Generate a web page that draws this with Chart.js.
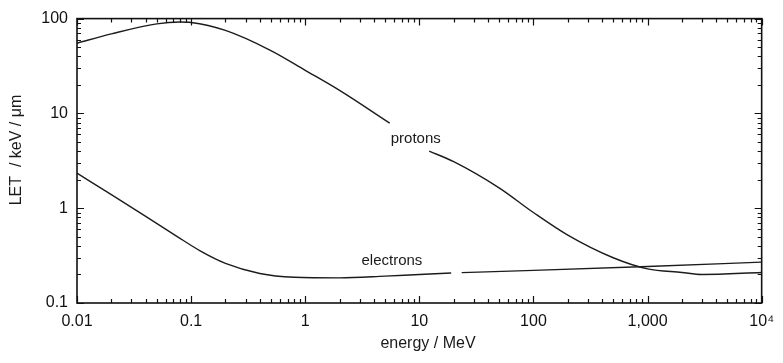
<!DOCTYPE html>
<html lang="en">
<head>
<meta charset="UTF-8">
<title>LET vs energy</title>
<script src="https://cdn.jsdelivr.net/npm/chart.js"></script>
<style>
  html, body { margin: 0; padding: 0; background: #fff; }
  #wrap { width: 783px; height: 363px; position: relative; }
</style>
</head>
<body>
<div id="wrap"><canvas id="letChart"></canvas></div>
<script>
// energies in MeV, LET in keV/um; null = break in the line
const protonEnergy = [0.01, 0.02, 0.05, 0.08, 0.1, 0.2, 0.5, 1, 2, 5.5, 8, 12.2, 20, 50, 100, 200, 500, 1000, 2000, 3000, 10000];
const protonLET    = [55, 69, 88, 92, 91, 75, 46, 28.5, 17.5, 7.9, null, 4.0, 3.1, 1.64, 0.90, 0.52, 0.30, 0.229, 0.21, 0.20, 0.21];

const electronEnergy = [0.01, 0.02, 0.04, 0.075, 0.12, 0.2, 0.4, 0.8, 2, 5, 10, 19, 21, 23.5, 100, 1000, 10000];
const electronLET    = [2.34, 1.39, 0.82, 0.505, 0.355, 0.262, 0.205, 0.187, 0.184, 0.192, 0.200, 0.207, null, 0.209, 0.221, 0.243, 0.27];

const xTicks = [0.01, 0.1, 1, 10, 100, 1000, 10000];
const xTickLabels = ['0.01', '0.1', '1', '10', '100', '1,000', '10\u2074'];
const yTicks = [0.1, 1, 10, 100];
const yTickLabels = ['0.1', '1', '10', '100'];

const xTitle = 'energy / MeV';
const yTitle = 'LET  / keV / \u03bcm';

// curve labels: [text, energy, LET]
const curveLabels = [['protons', 9.3, 5.4], ['electrons', 5.75, 0.276]];

const FONT = '"Liberation Sans", Arial, sans-serif';
const toPoints = (xs, ys) => xs.map((x, i) => ({ x: x, y: ys[i] }));

// ticks pointing into the plot on all four sides, the frame, axis titles and curve labels
const frameTicks = {
  id: 'frameTicks',
  afterDatasetsDraw(chart) {
    const { ctx, chartArea: a, scales: { x, y } } = chart;
    ctx.save();
    ctx.strokeStyle = '#111';
    ctx.lineWidth = 1.2;
    ctx.beginPath();
    for (let k = -2; k <= 4; k++) {
      for (let m = 1; m <= 9; m++) {
        const v = m * Math.pow(10, k);
        if (v > 10000 * 1.0001) break;
        const px = Math.round(x.getPixelForValue(v)) + 0.5;
        const len = m === 1 ? 7 : 4;
        ctx.moveTo(px, a.bottom); ctx.lineTo(px, a.bottom - len);
        ctx.moveTo(px, a.top); ctx.lineTo(px, a.top + len);
      }
    }
    for (let k = -1; k <= 2; k++) {
      for (let m = 1; m <= 9; m++) {
        const v = m * Math.pow(10, k);
        if (v > 100 * 1.0001) break;
        const py = Math.round(y.getPixelForValue(v)) + 0.5;
        const len = m === 1 ? 7 : 4;
        ctx.moveTo(a.left, py); ctx.lineTo(a.left + len, py);
        ctx.moveTo(a.right, py); ctx.lineTo(a.right - len, py);
      }
    }
    ctx.stroke();
    ctx.lineWidth = 1.6;
    ctx.strokeRect(a.left, a.top, a.right - a.left, a.bottom - a.top);

    ctx.fillStyle = '#1a1a1a';
    ctx.textAlign = 'center';
    ctx.textBaseline = 'middle';
    ctx.font = '15px ' + FONT;
    curveLabels.forEach(([t, ex, ey]) => {
      ctx.fillText(t, x.getPixelForValue(ex), y.getPixelForValue(ey));
    });

    ctx.font = '16px ' + FONT;
    ctx.fillText(xTitle, 428, 344);
    ctx.translate(17, 150);
    ctx.rotate(-Math.PI / 2);
    ctx.fillText(yTitle, 0, 0);
    ctx.restore();
  }
};

const lineStyle = {
  borderColor: '#1c1c1c',
  borderWidth: 1.4,
  pointRadius: 0,
  cubicInterpolationMode: 'monotone',
  fill: false,
  spanGaps: false
};

new Chart(document.getElementById('letChart').getContext('2d'), {
  type: 'line',
  data: {
    datasets: [
      Object.assign({ label: 'protons', data: toPoints(protonEnergy, protonLET) }, lineStyle),
      Object.assign({ label: 'electrons', data: toPoints(electronEnergy, electronLET) }, lineStyle)
    ]
  },
  options: {
    responsive: true,
    maintainAspectRatio: false,
    animation: false,
    layout: { padding: { top: 14, right: 17, left: 0, bottom: 0 } },
    plugins: { legend: { display: false }, tooltip: { enabled: false } },
    scales: {
      x: {
        type: 'logarithmic',
        min: 0.01,
        max: 10000,
        grid: { display: false, drawTicks: false },
        border: { display: false },
        afterBuildTicks: s => { s.ticks = xTicks.map(v => ({ value: v })); },
        afterFit: s => { s.height = 60; },
        ticks: {
          padding: 9,
          maxRotation: 0,
          autoSkip: false,
          color: '#111',
          font: { family: FONT, size: 16 },
          callback: (v, i) => xTickLabels[i]
        }
      },
      y: {
        type: 'logarithmic',
        min: 0.1,
        max: 100,
        grid: { display: false, drawTicks: false },
        border: { display: false },
        afterBuildTicks: s => { s.ticks = yTicks.map(v => ({ value: v })); },
        afterFit: s => { s.width = 77; },
        ticks: {
          padding: 9,
          autoSkip: false,
          color: '#111',
          font: { family: FONT, size: 16 },
          callback: (v, i) => yTickLabels[i]
        }
      }
    }
  },
  plugins: [frameTicks]
});
</script>
</body>
</html>
